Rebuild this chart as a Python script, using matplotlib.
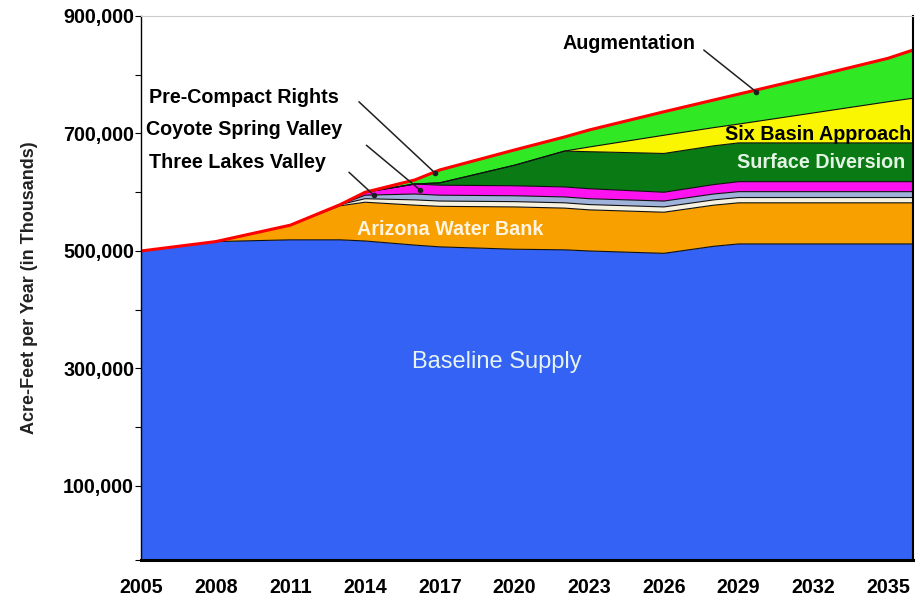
import numpy as np
import matplotlib.pyplot as plt
from matplotlib.ticker import FuncFormatter

plt.rcParams['font.family'] = ['Liberation Sans', 'DejaVu Sans']

# --- data (thousands of acre-feet per year, stacked layers) ---
years = [2005, 2008, 2011, 2013, 2014, 2016, 2017, 2020, 2022, 2023, 2026, 2028, 2029, 2032, 2035, 2036]
baseline = [500, 516, 519, 519, 517, 510, 507, 503, 502, 500, 496, 508, 512, 512, 512, 512]
arizona_bank = [0, 0, 25, 58, 66, 68, 69, 72, 71, 70, 70, 70, 70, 70, 70, 70]
three_lakes = [0, 0, 0, 2, 6, 9, 9, 9, 9, 9, 9, 9, 9, 9, 9, 9]
coyote_spring = [0, 0, 0, 0, 6, 10, 10, 10, 10, 10, 10, 10, 10, 10, 10, 10]
pre_compact = [0, 0, 0, 0, 5, 17, 17, 17, 17, 17, 15, 16, 17, 17, 17, 17]
surface_div = [0, 0, 0, 0, 0, 0, 4, 35, 61, 63, 66, 66, 66, 66, 66, 66]
six_basin = [0, 0, 0, 0, 0, 0, 0, 0, 0, 8, 31, 31, 32, 51, 70, 76]
augmentation = [0, 0, 0, 0, 0, 7, 22, 26, 24, 29, 40, 47, 51, 62, 74, 82]

xtick_years = list(range(2005, 2036, 3))

layers = [baseline, arizona_bank, three_lakes, coyote_spring, pre_compact,
          surface_div, six_basin, augmentation]
colors = ['#3362F5', '#F7A000', '#F6F2E2', '#9FB2DA', '#FF12F0',
          '#0A7A14', '#FAF500', '#30E824']

YMIN = -26000

x = np.array(years)
stack = np.array(layers, dtype=float) * 1000
tops = np.cumsum(stack, axis=0)
total = tops[-1]

fig = plt.figure(figsize=(9.17, 6.01), dpi=100)
ax = fig.add_axes([0.1538, 0.0682, 0.8418, 0.9052])

# stacked areas, the first one from the bottom of the axis
lower = np.full_like(total, YMIN)
for top, c in zip(tops, colors):
    ax.fill_between(x, lower, top, facecolor=c, edgecolor='none', zorder=2)
    ax.plot(x, top, color='#101010', linewidth=0.8, zorder=3)
    lower = top
ax.plot(x, total, color='#FF0000', linewidth=2.2, zorder=5)

ax.set_xlim(2005, 2036)
ax.set_ylim(YMIN, 900000)

ax.set_xticks(xtick_years)
ax.tick_params(axis='x', length=0, pad=13)
yt = list(range(100000, 900001, 100000))
ax.set_yticks(yt + [YMIN])
ax.yaxis.set_major_formatter(FuncFormatter(
    lambda v, p: f'{int(v):,}' if v > 0 and (v // 100000) % 2 == 1 else ''))
ax.tick_params(axis='y', length=4, width=0.8, pad=1)
for lab in ax.get_xticklabels() + ax.get_yticklabels():
    lab.set_fontweight('bold')
    lab.set_fontsize(14.2)

ax.spines['top'].set_color('#cccccc')
ax.spines['bottom'].set_linewidth(2.2)
ax.spines['left'].set_linewidth(1.0)
ax.spines['right'].set_linewidth(1.5)
for s in ax.spines.values():
    s.set_zorder(6)

ax.set_ylabel('Acre-Feet per Year (in Thousands)', fontsize=13, fontweight='bold',
              color='#222222', labelpad=18)


def kaf(v):
    return v * 1000


# annotation labels with leader lines
bold = dict(fontsize=14.2, fontweight='bold')
ax.text(2024.6, kaf(854), 'Augmentation', ha='center', va='center', **bold)
ax.text(2005.3, kaf(762), 'Pre-Compact Rights', ha='left', va='center', **bold)
ax.text(2005.2, kaf(706), 'Coyote Spring Valley', ha='left', va='center', **bold)
ax.text(2005.3, kaf(650), 'Three Lakes Valley', ha='left', va='center', **bold)
ax.text(2035.95, kaf(699), 'Six Basin Approach', ha='right', va='center',
        zorder=7, **bold)
ax.text(2035.7, kaf(651), 'Surface Diversion', ha='right', va='center',
        color='#E4F4E4', zorder=7, **bold)
ax.text(2017.4, kaf(537), 'Arizona Water Bank', ha='center', va='center',
        color='#FFF4E0', zorder=7, **bold)
ax.text(2019.3, kaf(311), 'Baseline Supply', ha='center', va='center',
        fontsize=17, color='#E6F4F0', zorder=7)

leaders = [((2027.6, 842), (2029.7, 771)),
           ((2013.75, 754), (2016.8, 633)),
           ((2014.05, 680), (2016.2, 604)),
           ((2013.35, 634), (2014.35, 595))]
for (x0, y0), (x1, y1) in leaders:
    ax.annotate('', xy=(x1, kaf(y1)), xytext=(x0, kaf(y0)),
                arrowprops=dict(arrowstyle='-', color='#202020', lw=1.1,
                                shrinkA=0, shrinkB=0), zorder=6)
    ax.plot(x1, kaf(y1), 'o', color='#202020', markersize=3, zorder=6)

fig.savefig('out.png', dpi=100)
